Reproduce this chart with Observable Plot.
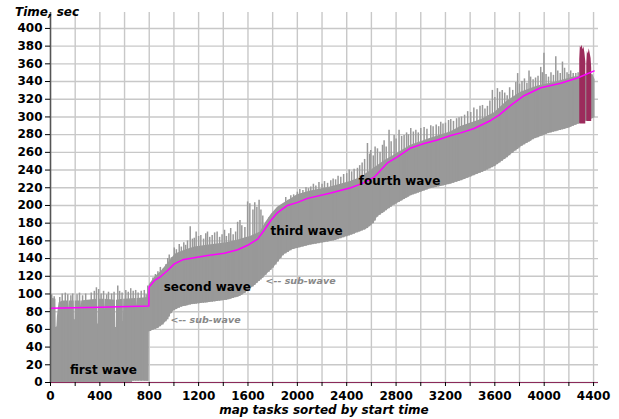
<!DOCTYPE html>
<html>
<head>
<meta charset="utf-8">
<script src="https://cdn.jsdelivr.net/npm/d3@7"></script>
<script src="https://cdn.jsdelivr.net/npm/@observablehq/plot@0.6"></script>
<style>
  html, body { margin: 0; padding: 0; background: #fff; }
  #chart { width: 619px; height: 419px; }
</style>
</head>
<body>
<div id="chart"></div>
<script>
// ---- data ----
// lower envelope of the task bars (task start time, sec)
const lowT = [0, 664, 666, 797, 799, 830, 870, 920, 950, 975, 1000, 1057, 1150, 1270, 1430, 1530, 1580, 1650, 1730, 1810, 1890, 1960, 2100, 2300, 2430, 2560, 2620, 2650, 2780, 2920, 3080, 3240, 3330, 3510, 3600, 3700, 3810, 3920, 4030, 4190, 4280, 4412];
const lowV = [0, 0, 1.5, 1.5, 57, 59, 61, 66, 71, 77, 81, 85, 88, 90, 93, 97, 101, 109, 119, 130, 144, 150, 155, 160, 166, 173, 180, 187, 200, 211, 219, 224, 228, 238, 244, 254, 266, 275, 281, 287, 292, 299];

// upper envelope of the solid body (task end time, sec)
const highT = [0, 20, 44, 46, 52, 56, 62, 70, 100, 145, 148, 153, 192, 194, 199, 201, 248, 250, 253, 300, 380, 382, 386, 388, 437, 439, 442, 526, 528, 533, 535, 585, 587, 591, 593, 698, 700, 703, 797, 799, 840, 900, 960, 1010, 1100, 1170, 1270, 1430, 1520, 1620, 1700, 1740, 1790, 1840, 1920, 2000, 2100, 2270, 2430, 2520, 2620, 2700, 2810, 2920, 3080, 3240, 3320, 3490, 3600, 3700, 3810, 3950, 4080, 4240, 4395, 4412];
const highV = [96, 95, 94, 62, 63, 74, 82, 90, 92, 92, 83, 92, 92, 71, 71, 92, 92, 86, 92, 93, 94, 66, 66, 94, 94, 82, 94, 93, 62, 62, 93, 94, 69, 69, 94, 95, 86, 95, 96, 110, 118, 126, 136, 145, 150, 153, 155, 158, 161, 165, 170, 180, 190, 198, 205, 212, 216, 221, 227, 232, 242, 250, 259, 268, 276, 283, 289, 297, 305, 318, 328, 335, 339, 345, 348, 342];

// individual long-running tasks sticking out above the body
const spikeT = [10, 30, 75, 95, 120, 140, 165, 180, 215, 235, 260, 285, 330, 355, 372, 390, 410, 430, 455, 470, 495, 515, 545, 560, 580, 610, 630, 650, 670, 690, 710, 735, 760, 775, 788,
  810, 830, 850, 870, 890, 910, 935, 950, 962, 980, 1003, 1020, 1043, 1060, 1080, 1095, 1110, 1132, 1150, 1165, 1180, 1200, 1218, 1240, 1258, 1272, 1290, 1310, 1330, 1350, 1370, 1390, 1410, 1425, 1445, 1460, 1480, 1500, 1516, 1535, 1550, 1575, 1597, 1615, 1640, 1655, 1672, 1690, 1705, 1720,
  1745, 1770, 1785, 1805, 1826, 1845, 1866, 1885, 1906, 1925, 1947, 1970, 2000, 2020, 2045, 2070, 2090, 2109, 2130, 2150, 2175, 2200, 2220, 2245, 2271, 2290, 2310, 2330, 2352, 2375, 2400, 2420, 2440, 2460, 2487, 2505, 2525, 2545,
  2568, 2585, 2595, 2615, 2630, 2649, 2670, 2690, 2703, 2720, 2743, 2760, 2784, 2800, 2824, 2845, 2865, 2885, 2900, 2919, 2940, 2960, 2980, 3000, 3027, 3050, 3081, 3100, 3125, 3145, 3162, 3180, 3200, 3225, 3243, 3265, 3290, 3310, 3330, 3355, 3380, 3405, 3430, 3455, 3480, 3500, 3520, 3540, 3560, 3580, 3600, 3621, 3640, 3660, 3680, 3700, 3720, 3745, 3770, 3785, 3800, 3820, 3840, 3860, 3877, 3890, 3910, 3930, 3950, 3972, 3985, 3998, 4015, 4035, 4055, 4075, 4094, 4110, 4130, 4148, 4165, 4185, 4200, 4215, 4235, 4256, 4275];
const spikeV = [99, 97, 96, 100, 101, 99, 98, 100, 99, 101, 98, 100, 101, 103, 107, 105, 100, 103, 99, 102, 100, 102, 109, 103, 101, 104, 102, 106, 103, 104, 101, 103, 104, 99, 109,
  112, 118, 122, 125, 130, 128, 133, 140, 144, 141, 152, 150, 156, 153, 158, 155, 160, 176, 162, 163, 170, 165, 166, 162, 168, 170, 164, 166, 169, 170, 164, 167, 172, 165, 168, 174, 167, 170, 181, 183, 177, 175, 204, 202, 195, 203, 198, 206, 195, 188,
  180, 186, 185, 190, 192, 195, 198, 200, 209, 206, 211, 212, 215, 218, 217, 220, 219, 221, 224, 222, 226, 224, 227, 225, 228, 230, 229, 233, 232, 235, 236, 240, 238, 241, 242, 245, 248, 252,
  270, 258, 262, 256, 266, 264, 260, 268, 273, 266, 285, 272, 279, 275, 285, 278, 279, 282, 280, 287, 283, 285, 282, 287, 288, 286, 290, 289, 291, 289, 294, 292, 293, 296, 297, 295, 298, 299, 300, 302, 306, 305, 310, 308, 312, 313, 309, 312, 318, 330, 322, 332, 328, 330, 327, 324, 333, 330, 339, 349, 337, 340, 343, 338, 352, 345, 342, 344, 346, 356, 350, 372, 348, 345, 350, 347, 368, 352, 349, 362, 355, 350, 348, 352, 349, 349, 350];

// highlighted (dark red) tasks near the end
const redT   = [4288, 4293, 4300, 4307, 4315, 4322, 4330, 4337, 4345, 4350, 4358, 4365, 4372, 4380, 4385];
const redTop = [365, 380, 378, 381, 376, 379, 372, 362, 360, 374, 371, 377, 372, 366, 355];
const redLow = [292, 292, 292, 292, 292, 292, 292, 292, 295, 295, 295, 295, 295, 295, 295];
const redGrp = [1, 1, 1, 1, 1, 1, 1, 1, 2, 2, 2, 2, 2, 2, 2];

// magenta trend line
const magT = [0, 400, 797, 799, 841, 895, 949, 1003, 1070, 1165, 1273, 1408, 1516, 1597, 1678, 1731, 1785, 1840, 1920, 2002, 2083, 2271, 2433, 2528, 2622, 2730, 2811, 2919, 3027, 3135, 3243, 3324, 3432, 3567, 3634, 3729, 3836, 3972, 4134, 4269, 4405];
const magV = [84, 85, 86.5, 108, 115, 120, 126.5, 134, 138.6, 141, 143.5, 146, 150, 155, 162, 172, 183, 192, 200, 203.5, 208, 214, 220, 225, 232, 248, 255, 265, 270, 274, 279, 282, 287, 296, 302, 313, 324, 333, 338, 344, 352];

// annotations
const waveText = ["first wave", "second wave", "third wave", "fourth wave"];
const waveT = [429, 1270, 2075, 2828];
const waveV = [13.6, 107.7, 171, 228];
const subText = ["<-- sub-wave", "<-- sub-wave"];
const subT = [972, 1742];
const subV = [70.8, 114.5];

// axis ticks
const xTicks = d3.range(0, 4401, 200);
const yTicks = d3.range(0, 401, 20);

// ---- build tables ----
const lowS = d3.scaleLinear().domain(lowT).range(lowV);
const highS = d3.scaleLinear().domain(highT).range(highV);
const allT = Array.from(new Set([...lowT, ...highT])).sort((a, b) => a - b);
const body = allT.map(t => ({t, low: lowS(t), high: highS(t)}));
const spikes = spikeT.map((t, i) => ({t, base: lowS(t), v: spikeV[i]}));
const red = redT.map((t, i) => ({t, low: redLow[i], high: redTop[i], g: redGrp[i]}));
const mag = magT.map((t, i) => ({t, v: magV[i]}));
const waves = waveText.map((s, i) => ({s, t: waveT[i], v: waveV[i]}));
const subs = subText.map((s, i) => ({s, t: subT[i], v: subV[i]}));

const gray = "#999999";
const chart = Plot.plot({
  width: 619,
  height: 419,
  marginLeft: 50,
  marginRight: 21,
  marginTop: 12,
  marginBottom: 37,
  style: {fontFamily: "DejaVu Sans", fontSize: "12px", fontWeight: "bold", background: "#fff", color: "#000", overflow: "visible"},
  x: {domain: [0, 4440]},
  y: {domain: [0, 418]},
  marks: [
    Plot.gridX(xTicks, {stroke: "#c8c8c8", strokeOpacity: 1, strokeWidth: 1.4}),
    Plot.gridY(yTicks, {stroke: "#c8c8c8", strokeOpacity: 1, strokeWidth: 1.4}),
    Plot.areaY(body, {x: "t", y1: "low", y2: "high", fill: gray, curve: "linear"}),
    Plot.ruleX(spikes, {x: "t", y1: "base", y2: "v", stroke: gray, strokeWidth: 1.5}),
    Plot.areaY(red, {x: "t", y1: "low", y2: "high", z: "g", fill: "#9c2b5c", curve: "linear"}),
    Plot.line(mag, {x: "t", y: "v", stroke: "#ff00ff", strokeWidth: 1.5}),
    Plot.ruleX([0], {y1: 0, y2: 418, stroke: "#555", strokeWidth: 1.5}),
    Plot.ruleY([0], {stroke: "#8b2a5a", strokeWidth: 1.2}),
    Plot.axisX({ticks: xTicks, tickFormat: d => (d % 400 === 0 ? String(d) : ""), tickSize: 4, label: null, fontSize: 12, fontWeight: "bold"}),
    Plot.axisY({ticks: yTicks, tickSize: 5, tickPadding: 3, label: null, fontSize: 12, fontWeight: "bold"}),
    Plot.text(waves, {x: "t", y: "v", text: "s", fontSize: 12, fontWeight: "bold", fill: "#000"}),
    Plot.text(subs, {x: "t", y: "v", text: "s", fontSize: 9.5, fontWeight: "bold", fontStyle: "italic", fill: "#888", textAnchor: "start"})
  ]
});

const svg = d3.select(chart);
svg.append("text")
  .attr("x", 15).attr("y", 15.5)
  .attr("text-anchor", "start")
  .attr("font-family", "DejaVu Sans").attr("font-size", 12)
  .attr("font-weight", "bold").attr("font-style", "italic")
  .attr("fill", "#000")
  .text("Time, sec");
svg.append("text")
  .attr("x", 324).attr("y", 414)
  .attr("text-anchor", "middle")
  .attr("font-family", "DejaVu Sans").attr("font-size", 12)
  .attr("font-weight", "bold").attr("font-style", "italic")
  .attr("fill", "#000")
  .text("map tasks sorted by start time");

document.getElementById("chart").appendChild(chart);
</script>
</body>
</html>
